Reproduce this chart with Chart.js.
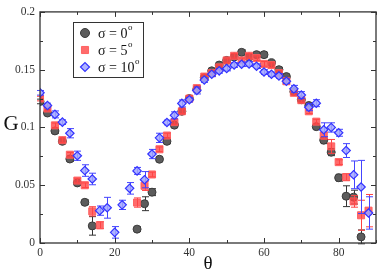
<!DOCTYPE html>
<html><head><meta charset="utf-8">
<script src="https://cdn.jsdelivr.net/npm/chart.js@4"></script>
<style>html,body{margin:0;padding:0;background:#fff}#wrap{width:382px;height:272px}</style>
</head><body><div id="wrap"><canvas id="c" width="382" height="272"></canvas></div>
<script>
const theta = [0,2,4,6,8,10,12,14,16,18,20,22,24,26,28,30,32,34,36,38,40,42,44,46,48,50,52,54,56,58,60,62,64,66,68,70,72,74,76,78,80,82,84,86,88];
const g0 = [0.1225,0.1125,0.097,0.088,0.0727,0.052,0.0352,0.0148,null,null,null,null,null,0.012,0.034,0.044,0.0725,0.088,0.102,0.114,0.125,0.133,0.143,0.149,0.154,0.158,0.161,0.165,0.161,0.163,0.163,0.156,0.150,0.144,0.131,0.124,0.119,0.1007,0.089,0.0786,0.0565,0.0405,0.0397,0.0053,null];
const e0 = [0.002,0.002,0.002,0.002,0.002,0.002,0.002,0.008,null,null,null,null,null,0.002,0.006,0.003,0.002,0.002,0.002,0.002,0.002,0.002,0.002,0.002,0.002,0.002,0.002,0.002,0.002,0.002,0.002,0.002,0.002,0.002,0.002,0.002,0.002,0.002,0.003,0.003,0.003,0.009,0.006,0.006,null];
const g5 = [0.125,0.1164,0.1018,0.089,0.0764,0.054,0.050,0.0274,0.0154,null,null,null,null,0.035,0.0495,0.0593,0.0811,0.093,0.1046,0.114,0.125,0.134,0.144,0.147,0.152,0.158,0.162,0.158,0.162,0.160,0.155,0.154,0.147,0.140,0.130,0.1236,0.114,0.105,0.093,0.0836,0.070,0.057,0.036,0.024,0.028];
const e5 = [0.002,0.002,0.002,0.002,0.002,0.002,0.002,0.004,0.003,null,null,null,null,0.004,0.004,0.002,0.002,0.002,0.002,0.002,0.002,0.002,0.002,0.002,0.002,0.002,0.002,0.002,0.002,0.002,0.002,0.002,0.002,0.002,0.002,0.002,0.002,0.002,0.003,0.006,0.002,0.003,0.005,0.013,0.014];
const g10 = [0.130,0.119,0.1113,0.1046,0.095,0.0755,0.0627,0.0554,0.028,0.0305,0.0092,0.033,0.0473,0.0624,0.0548,0.077,0.091,0.1043,0.1105,0.1208,0.124,0.132,0.141,0.146,0.149,0.151,0.154,0.1547,0.155,0.153,0.148,0.146,0.1446,0.140,0.1334,0.128,0.1175,0.121,0.098,0.100,0.0954,0.080,0.059,0.0485,0.026];
const e10 = [0.002,0.002,0.003,0.002,0.004,0.004,0.005,0.005,0.004,0.009,0.005,0.004,0.005,0.003,0.007,0.004,0.004,0.002,0.003,0.003,0.002,0.003,0.002,0.002,0.002,0.002,0.002,0.002,0.002,0.002,0.002,0.002,0.002,0.002,0.003,0.003,0.003,0.003,0.006,0.004,0.003,0.006,0.012,0.023,0.014];
const xTicks = [0,20,40,60,80];
const yTicks = [0,0.05,0.1,0.15,0.2];
const seriesLabels = ['σ = 0','σ = 5','σ = 10'];

function pts(ys, es){ const out=[]; theta.forEach((t,i)=>{ if(ys[i]!==null) out.push({x:t,y:ys[i],e:es[i]}); }); return out; }

const SERIF = '"Liberation Serif","DejaVu Serif",serif';

const errPlugin = {
  id:'err',
  beforeDatasetDraw(chart, args){
    const ds = chart.data.datasets[args.index];
    const xs = chart.scales.x, ys = chart.scales.y, ctx = chart.ctx;
    ctx.save();
    ctx.strokeStyle = ds.errColor; ctx.lineWidth = 1;
    ds.data.forEach(p=>{
      if(!p.e) return;
      const px = Math.round(xs.getPixelForValue(p.x))+0.5;
      const y1 = ys.getPixelForValue(p.y+p.e), y2 = ys.getPixelForValue(p.y-p.e);
      ctx.beginPath();
      ctx.moveTo(px,y1); ctx.lineTo(px,y2);
      ctx.moveTo(px-3.5,y1); ctx.lineTo(px+3.5,y1);
      ctx.moveTo(px-3.5,y2); ctx.lineTo(px+3.5,y2);
      ctx.stroke();
    });
    ctx.restore();
  }
};

const framePlugin = {
  id:'frame',
  afterDraw(chart){
    const ctx = chart.ctx, a = chart.chartArea, xs = chart.scales.x, ys = chart.scales.y;
    ctx.save();
    ctx.strokeStyle = '#333'; ctx.lineWidth = 1.3;
    ctx.strokeRect(a.left, a.top, a.right-a.left, a.bottom-a.top);
    ctx.lineWidth = 1;
    ctx.beginPath();
    for(let v=0; v<=90; v+=10){
      const px = Math.round(xs.getPixelForValue(v))+0.5;
      const L = (v%20===0)?5:3;
      ctx.moveTo(px,a.bottom); ctx.lineTo(px,a.bottom-L);
      ctx.moveTo(px,a.top); ctx.lineTo(px,a.top+L);
    }
    for(let k=0; k<=8; k++){
      const v = k*0.025;
      const py = Math.round(ys.getPixelForValue(v))+0.5;
      const L = (k%2===0)?5:3;
      ctx.moveTo(a.left,py); ctx.lineTo(a.left+L,py);
      ctx.moveTo(a.right,py); ctx.lineTo(a.right-L,py);
    }
    ctx.stroke();
    // axis titles
    ctx.fillStyle = '#111';
    ctx.font = '21px '+SERIF;
    ctx.textAlign='center'; ctx.textBaseline='middle';
    ctx.fillText('G', 11, 124);
    ctx.font = '19px '+SERIF;
    ctx.fillText('θ', (a.left+a.right)/2, 264);
    // legend
    const lx=73, ly=22, lw=70, lh=55;
    ctx.fillStyle='#fff'; ctx.fillRect(lx,ly,lw,lh);
    ctx.strokeStyle='#333'; ctx.lineWidth=1; ctx.strokeRect(lx+0.5,ly+0.5,lw,lh);
    const rows=[33,50,67];
    chart.data.datasets.forEach((ds,i)=>{
      const cy = rows[ds.legendRow];
      const cx = 85;
      ctx.save();
      ctx.fillStyle = ds.backgroundColor; ctx.strokeStyle = ds.borderColor; ctx.lineWidth = ds.borderWidth;
      Chart.helpers.drawPoint(ctx, {pointStyle:ds.pointStyle, radius:ds.legendRadius, borderWidth:ds.borderWidth}, cx, cy);
      ctx.restore();
      ctx.fillStyle='#111';
      ctx.textAlign='left'; ctx.textBaseline='middle';
      ctx.font='14px '+SERIF;
      const txt = seriesLabels[ds.legendRow];
      ctx.fillText(txt, 98, cy+1);
      const w = ctx.measureText(txt).width;
      ctx.font='9px '+SERIF;
      ctx.fillText('o', 98+w+0.5, cy-5);
    });
    ctx.restore();
  }
};

new Chart(document.getElementById('c'), {
  type:'scatter',
  data:{ datasets:[
    {label:'σ = 0°', data:pts(g0,e0), pointStyle:'circle', pointRadius:4, legendRadius:4.5, backgroundColor:'#5c5c5c', borderColor:'#3a3a3a', borderWidth:1, errColor:'#333', order:3, legendRow:0},
    {label:'σ = 5°', data:pts(g5,e5), pointStyle:'rect', pointRadius:5, legendRadius:5, backgroundColor:'rgba(255,70,70,0.8)', borderColor:'rgba(255,90,90,0.9)', borderWidth:1, errColor:'#ff4040', order:2, legendRow:1},
    {label:'σ = 10°', data:pts(g10,e10), pointStyle:'rectRot', pointRadius:4.2, legendRadius:4.5, backgroundColor:'rgba(160,165,255,0.85)', borderColor:'#3333ff', borderWidth:1.2, errColor:'#4444ff', order:1, legendRow:2}
  ]},
  options:{
    responsive:false, animation:false, devicePixelRatio:1,
    layout:{padding:{top:5,right:2,left:0,bottom:0}},
    plugins:{legend:{display:false}, tooltip:{enabled:false}},
    elements:{point:{hoverRadius:4}},
    scales:{
      x:{type:'linear', min:0, max:90,
        afterFit(s){ s.height = 29; },
        afterBuildTicks(s){ s.ticks = xTicks.map(v=>({value:v})); },
        grid:{display:false, drawTicks:false}, border:{display:false},
        ticks:{padding:3, color:'#333', font:{family:SERIF, size:11.5}, maxRotation:0}
      },
      y:{type:'linear', min:0, max:0.2,
        afterFit(s){ s.width = 40; },
        afterBuildTicks(s){ s.ticks = yTicks.map(v=>({value:v})); },
        grid:{display:false, drawTicks:false}, border:{display:false},
        ticks:{padding:5, color:'#333', font:{family:SERIF, size:11.5}, callback:(v)=>String(v)}
      }
    }
  },
  plugins:[errPlugin, framePlugin]
});
</script></body></html>
